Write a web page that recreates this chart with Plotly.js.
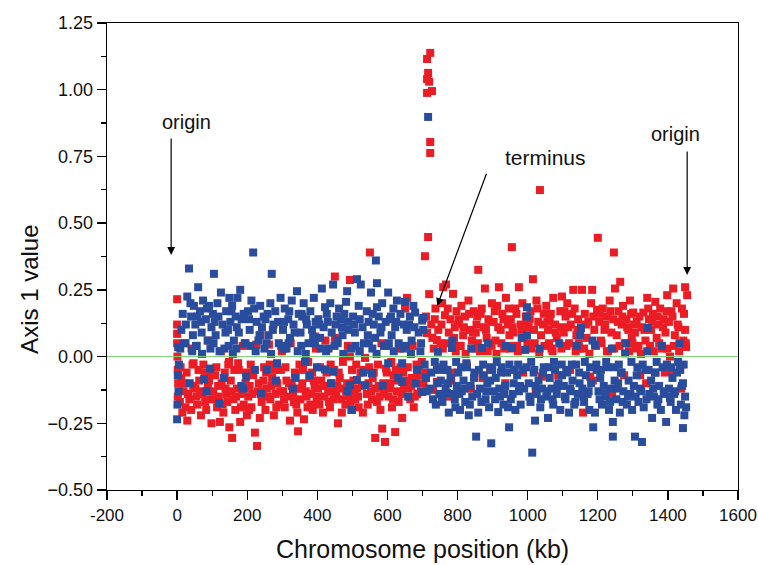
<!DOCTYPE html>
<html>
<head>
<meta charset="utf-8">
<script src="https://cdn.plot.ly/plotly-3.0.1.min.js"></script>
<style>html,body{margin:0;padding:0;background:#fff}#chart{width:758px;height:565px}</style>
</head>
<body>
<div id="chart"></div>
<script>
// Red series (kb, axis 1 value)
const redX = [
0,0,0,0,1,2,3,2,12,18,29,24,35,40,46,44,8,22,31,15,
52,57,63,68,72,78,83,88,94,98,55,66,80,91,
103,108,114,119,122,127,132,138,143,148,149,106,117,130,141,
153,157,161,166,171,176,180,185,190,195,199,155,168,182,193,
203,207,212,217,222,226,228,231,236,241,246,205,215,233,244,
252,256,262,266,271,276,281,286,291,296,259,269,283,294,
302,307,312,317,322,327,333,338,343,345,348,305,319,331,340,
352,357,362,367,372,377,382,387,392,394,398,355,369,380,390,
402,406,411,416,421,426,431,436,441,446,450,450,404,418,433,444,
454,459,464,470,475,480,485,490,493,493,497,457,468,482,495,
503,508,513,518,523,530,536,541,546,550,505,516,527,544,
553,558,565,570,575,580,585,590,593,598,556,567,578,588,
603,608,613,618,622,627,632,637,642,647,606,616,629,640,
650,656,660,665,670,675,680,685,690,695,653,668,678,692,
722,713,716,713,719,713,727,722,722,716,707,719,713,741,730,741,705,710,725,732,737,745,748,703,728,735,
752,756,759,764,767,770,775,780,784,787,792,797,754,772,790,
802,806,811,816,821,826,831,836,841,846,804,818,833,844,
852,856,859,864,869,874,878,883,888,893,898,854,866,881,895,
903,908,913,918,923,928,933,938,943,948,906,916,931,946,
952,955,960,965,970,975,980,985,990,995,957,968,983,997,
1003,1008,1015,1020,1025,1030,1035,1038,1041,1046,1006,1018,1028,1044,
1053,1058,1063,1068,1073,1078,1083,1087,1093,1098,1056,1066,1080,1095,
1103,1108,1113,1118,1123,1130,1134,1139,1144,1148,1105,1116,1127,1142,
1152,1155,1158,1158,1163,1168,1173,1178,1181,1184,1190,1195,1198,1200,1166,1187,
1204,1209,1214,1219,1224,1229,1234,1239,1244,1246,1249,1206,1221,1236,
1254,1259,1264,1268,1272,1277,1282,1287,1292,1297,1257,1270,1284,1295,
1301,1306,1311,1316,1321,1326,1330,1336,1341,1346,1304,1319,1333,1344,
1352,1357,1364,1368,1373,1378,1383,1388,1393,1398,1355,1371,1386,1396,
1403,1406,1406,1406,1410,1415,1420,1425,1430,1435,1440,1444,1449,1452,1455,1449,1413,1428,1446,
10,27,41,47, 61,75,89,96, 112,125,136,146, 163,174,187,197, 210,219,238,248, 254,264,278,299, 309,324,336,349,
359,374,385,396, 408,423,438,448, 461,473,487,499, 511,521,533,548, 561,573,583,596, 611,624,635,645, 658,672,683,698,
758,769,782,795, 809,823,838,849, 858,871,886,897, 911,925,936,949, 958,972,987,999, 1011,1023,1033,1048, 1061,1071,1085,1096,
1111,1121,1137,1146, 1161,1176,1186,1193, 1211,1226,1241,1247, 1262,1275,1289,1299, 1309,1323,1338,1349, 1360,1375,1391,1399, 1417,1432,1438,1451
];
const redY = [
0.215,0.12,0.085,0.05,0.0,-0.05,-0.1,-0.15,-0.08,-0.13,-0.24,-0.19,-0.16,-0.2,-0.11,-0.03,-0.17,-0.1,-0.14,-0.21,
-0.12,-0.18,-0.09,-0.22,-0.14,-0.06,-0.2,-0.11,-0.16,-0.25,-0.15,-0.13,-0.17,-0.09,
-0.13,-0.07,-0.19,-0.15,-0.245,-0.1,-0.21,-0.12,-0.17,-0.02,-0.265,-0.16,-0.11,-0.18,-0.14,
-0.09,-0.305,-0.16,-0.2,-0.12,-0.05,-0.245,-0.14,-0.18,-0.1,-0.22,-0.13,-0.15,-0.19,-0.12,
-0.15,-0.11,-0.19,-0.07,-0.285,0.045,-0.335,-0.13,-0.23,-0.17,-0.09,-0.2,-0.14,-0.1,-0.13,
-0.2,-0.12,0.045,-0.16,-0.08,-0.22,-0.14,-0.1,-0.18,-0.05,-0.15,-0.11,-0.19,-0.13,
-0.13,-0.19,-0.09,-0.15,-0.24,-0.11,-0.17,-0.07,-0.21,-0.28,-0.12,-0.16,-0.1,-0.14,-0.18,
-0.16,-0.1,-0.235,-0.13,-0.19,-0.08,-0.14,-0.2,-0.11,0.075,-0.17,-0.12,-0.15,-0.18,-0.09,
-0.12,-0.18,-0.09,-0.21,-0.15,-0.06,-0.13,-0.19,-0.1,-0.16,0.30,0.07,-0.15,-0.11,-0.17,-0.13,
-0.14,-0.25,-0.08,-0.21,-0.12,-0.18,-0.1,-0.15,0.287,0.0,-0.2,-0.11,-0.16,-0.13,-0.17,
-0.09,-0.16,-0.12,-0.19,-0.06,-0.21,-0.005,-0.14,-0.1,0.39,-0.13,-0.15,-0.11,-0.18,
-0.13,-0.08,-0.305,-0.17,-0.11,-0.2,-0.27,-0.14,-0.32,-0.06,-0.16,-0.12,-0.15,-0.1,
-0.15,-0.1,-0.19,-0.07,-0.283,-0.13,-0.17,-0.04,-0.23,-0.11,-0.12,-0.16,-0.09,-0.14,
0.18,0.22,-0.12,-0.16,-0.08,-0.19,-0.1,-0.14,-0.05,-0.13,-0.09,-0.11,-0.15,-0.07,
1.138,1.115,1.063,1.04,1.03,0.988,0.995,0.804,0.763,0.448,0.376,0.234,0.088,0.062,-0.125,-0.095,-0.06,0.15,0.12,0.03,0.18,0.1,-0.04,-0.1,0.07,0.14,
0.05,0.2,0.26,0.155,0.27,-0.15,0.09,0.14,-0.06,0.235,0.11,0.17,0.12,0.18,0.07,
0.12,0.04,0.19,0.08,0.15,-0.03,0.21,0.1,0.06,0.17,0.14,0.11,0.16,0.09,
0.09,0.15,0.325,0.02,0.18,0.11,0.255,0.07,0.14,-0.05,0.2,0.12,0.16,0.1,0.13,
0.13,0.06,0.19,0.26,0.1,0.16,0.03,0.22,0.12,0.08,0.17,0.11,0.14,0.18,
0.14,0.41,0.09,0.18,0.04,0.26,0.12,0.2,0.07,0.15,0.11,0.16,0.1,0.13,
0.11,0.17,0.29,0.05,0.21,0.13,0.624,0.08,-0.075,0.16,0.14,0.1,0.18,0.12,
0.19,0.1,0.14,0.03,0.22,0.12,0.07,-0.07,0.17,0.225,0.13,0.16,0.09,0.11,
0.09,0.15,0.2,0.05,0.12,0.25,0.18,0.08,0.14,0.03,0.17,0.11,0.16,0.1,
0.11,0.25,-0.137,-0.21,0.16,0.07,0.13,-0.075,0.2,0.25,0.1,0.04,0.175,0.445,0.12,0.15,
0.13,0.06,0.18,0.1,0.15,0.02,0.21,0.09,0.14,0.39,0.255,0.16,0.12,0.17,
0.08,0.17,0.28,0.12,0.19,0.05,0.14,0.1,0.21,0.07,0.13,0.15,0.11,0.16,
0.165,0.09,0.13,0.04,-0.07,0.11,0.165,0.06,0.22,0.14,0.12,0.15,0.1,0.18,
0.1,0.16,0.205,0.07,0.12,0.18,0.03,0.14,0.09,0.23,0.13,0.15,0.11,0.17,
0.13,0.0,-0.057,-0.155,0.17,0.255,0.08,0.2,0.11,-0.045,0.18,0.06,0.26,0.036,0.23,0.1,0.15,0.12,0.16,
-0.04,-0.06,0.03,-0.025, -0.05,-0.03,0.06,-0.07, -0.04,0.02,-0.06,-0.03, -0.05,-0.025,0.04,-0.06, -0.03,-0.05,0.08,-0.04, -0.06,-0.03,-0.05,0.02, -0.04,0.05,-0.06,-0.03,
-0.05,-0.02,-0.06,0.03, -0.04,0.06,-0.03,-0.05, -0.06,-0.02,0.04,-0.05, -0.03,0.02,-0.05,-0.04, -0.06,-0.03,0.05,-0.045, -0.02,-0.05,0.03,-0.06, -0.04,0.04,-0.03,-0.02,
0.03,0.05,-0.09,0.02, 0.04,0.01,-0.12,0.03, 0.05,-0.08,0.02,0.04, 0.01,0.05,-0.1,0.03, 0.04,0.02,-0.06,0.05, 0.03,-0.13,0.01,0.04, 0.05,0.02,-0.11,0.03,
0.04,-0.05,0.02,0.05, 0.03,0.01,-0.09,0.04, 0.05,0.02,-0.14,0.03, 0.04,-0.07,0.02,0.05, 0.03,0.01,-0.1,0.04, 0.02,0.05,-0.06,0.03, 0.04,0.02,-0.12,0.05
];
// Blue series (kb, axis 1 value)
const blueX = [
3,5,2,4,1,0,12,20,29,34,40,45,48,16,25,38,
52,56,60,65,70,74,77,82,87,91,94,98,58,68,85,
102,105,110,115,120,125,130,135,140,145,149,107,118,138,
152,157,162,167,172,176,180,184,188,193,197,155,170,190,
202,207,212,217,222,227,232,237,242,247,205,220,235,
252,256,261,266,270,275,280,285,290,295,258,273,288,
302,307,312,317,322,327,332,337,342,347,305,320,335,
352,357,361,365,370,375,380,385,390,395,399,355,368,388,
403,408,413,418,422,422,427,432,437,441,445,445,406,430,
452,457,462,467,472,477,482,485,489,493,499,455,470,487,
502,507,513,513,518,524,529,533,536,541,546,505,521,544,
553,556,561,565,567,570,570,575,580,585,590,595,558,583,
602,602,607,612,617,622,627,632,637,642,642,647,610,625,
650,655,659,664,669,674,679,684,689,694,699,699,662,677,
702,702,706,710,716,720,725,730,735,741,744,744,748,712,738,
752,757,762,766,770,775,780,784,789,794,798,755,773,792,
802,807,812,817,822,827,832,837,842,847,805,820,835,
853,859,864,870,875,880,885,890,896,899,856,868,882,893,
904,909,916,921,926,931,936,941,947,907,919,933,944,
952,955,960,965,970,975,980,985,990,993,998,998,998,957,978,
1003,1008,1013,1017,1021,1026,1031,1036,1041,1046,1005,1023,1038,
1053,1058,1063,1068,1073,1078,1083,1088,1093,1098,1056,1071,1086,
1103,1108,1113,1118,1123,1128,1133,1138,1143,1148,1106,1121,1136,
1150,1152,1156,1161,1166,1171,1176,1181,1187,1192,1192,1197,1159,1174,
1202,1207,1212,1217,1222,1227,1232,1237,1243,1243,1248,1205,1220,1235,
1253,1258,1263,1268,1273,1278,1283,1288,1293,1298,1256,1271,1286,
1303,1306,1311,1316,1321,1326,1331,1336,1343,1347,1308,1324,1339,
1352,1355,1360,1365,1370,1375,1380,1385,1390,1395,1358,1373,1388,
1403,1408,1413,1418,1423,1429,1435,1440,1443,1449,1443,1452,1406,1421,1437,1447,
9,24,36,43, 54,71,84,95, 104,121,133,147, 159,169,183,195, 209,224,239,249, 255,268,282,297, 304,318,330,344,
354,367,378,393, 410,425,439,449, 458,474,486,496, 509,520,531,547, 557,569,586,598, 604,618,631,644, 652,667,681,696,
760,771,785,796, 810,825,839,848, 861,873,887,894, 912,924,938,948, 962,973,983,996, 1010,1019,1034,1044, 1060,1075,1090,1097,
1110,1126,1140,1147, 1163,1178,1185,1196, 1209,1224,1240,1246, 1260,1266,1281,1296, 1313,1328,1341,1345, 1363,1368,1383,1397, 1410,1426,1433,1445
];
const blueY = [
0.035,-0.03,-0.07,-0.13,-0.18,-0.235,0.1,0.05,0.225,0.33,0.15,0.08,0.19,0.16,0.12,0.2,
0.12,0.04,0.26,0.17,0.09,0.21,-0.085,0.14,0.06,0.19,-0.045,0.11,0.15,0.13,0.18,
0.16,0.31,0.08,0.2,-0.175,0.24,0.12,0.03,0.17,0.1,0.22,0.13,0.15,0.09,
0.13,0.19,0.06,0.15,0.22,0.09,0.25,0.14,-0.12,0.05,-0.075,0.17,0.11,0.16,
0.17,0.1,0.21,0.39,-0.05,0.13,0.06,0.19,0.11,0.15,0.14,0.18,0.08,
0.14,-0.05,0.08,0.2,0.31,0.12,0.17,-0.025,0.05,0.22,0.16,0.1,0.13,
0.1,0.18,0.03,0.14,0.07,0.21,0.12,-0.08,0.245,0.16,0.13,0.17,0.09,
0.09,0.15,0.2,-0.02,0.12,0.05,0.17,0.1,0.22,0.13,-0.04,0.16,0.14,0.07,
0.14,0.07,0.255,0.11,0.185,-0.048,0.16,0.03,0.2,0.09,0.27,-0.057,0.12,0.13,
0.12,0.06,0.18,0.14,0.08,0.16,0.205,0.245,0.1,-0.107,-0.2,0.15,0.11,0.13,
0.15,0.09,0.29,-0.088,0.19,0.27,0.11,0.05,-0.107,0.17,0.13,0.12,0.14,0.08,
0.24,-0.062,0.12,0.07,0.36,0.275,0.185,0.15,0.09,0.2,0.04,0.13,0.16,0.11,
0.24,-0.025,0.14,0.08,0.18,0.11,0.21,0.05,0.16,-0.025,-0.095,0.12,0.15,0.13,
0.205,0.1,-0.15,0.15,0.06,0.19,0.165,-0.05,0.09,0.02,0.135,-0.133,0.12,0.11,
0.145,0.1,-0.03,-0.08,0.898,-0.12,-0.06,-0.16,-0.02,-0.05,-0.1,0.018,-0.14,-0.13,-0.18,
-0.09,-0.17,-0.05,-0.12,-0.137,-0.21,-0.08,0.032,-0.14,-0.19,-0.11,-0.15,-0.1,-0.16,
-0.06,-0.2,-0.13,-0.09,-0.17,-0.04,-0.22,-0.11,-0.15,-0.08,-0.14,-0.12,-0.18,
-0.3,-0.21,-0.12,0.032,-0.07,-0.16,-0.1,-0.19,-0.325,-0.05,-0.14,-0.17,-0.13,-0.09,
-0.13,-0.08,-0.208,-0.15,-0.04,-0.18,-0.11,-0.06,-0.265,-0.16,-0.12,-0.14,-0.19,
-0.16,0.032,-0.1,-0.2,-0.07,-0.13,-0.18,-0.05,-0.12,0.025,0.185,0.15,0.08,-0.14,-0.11,
-0.1,-0.17,-0.36,-0.06,-0.24,-0.14,-0.09,-0.19,-0.12,-0.04,-0.15,-0.11,-0.16,
-0.15,-0.23,-0.08,-0.12,-0.18,-0.05,-0.14,-0.1,-0.2,-0.07,-0.13,-0.16,-0.11,
-0.11,-0.16,-0.06,-0.21,-0.13,-0.09,-0.18,-0.03,-0.14,-0.1,-0.15,-0.12,-0.17,
0.08,0.107,-0.12,-0.17,-0.07,-0.14,-0.2,-0.1,-0.265,0.044,-0.21,-0.05,-0.15,-0.13,
-0.13,-0.08,-0.18,-0.11,-0.15,-0.04,-0.2,-0.12,-0.3,-0.245,-0.09,-0.16,-0.14,-0.17,
-0.16,-0.1,-0.21,-0.06,-0.13,0.012,-0.18,-0.09,-0.14,-0.2,-0.12,-0.17,-0.15,
-0.11,-0.3,-0.07,-0.17,-0.12,-0.32,-0.19,-0.05,0.107,-0.14,-0.15,-0.13,-0.16,
-0.09,-0.23,-0.15,-0.06,-0.18,-0.11,-0.2,-0.04,-0.13,-0.245,-0.12,-0.16,-0.14,
-0.12,-0.17,-0.08,-0.14,-0.2,-0.02,-0.05,-0.11,-0.1,-0.15,-0.268,-0.19,-0.15,-0.13,-0.18,-0.22,
0.03,0.05,-0.1,0.02, 0.04,0.01,-0.13,0.03, 0.05,0.02,-0.08,0.04, 0.01,0.03,-0.11,0.05, 0.04,0.02,-0.14,0.03, 0.05,0.01,-0.09,0.04, 0.03,0.05,-0.12,0.02,
0.04,0.01,-0.07,0.05, 0.03,0.02,-0.1,0.04, 0.05,0.01,-0.13,0.03, 0.04,0.02,-0.06,0.05, 0.03,0.01,-0.11,0.04, 0.05,0.02,-0.08,0.03, 0.04,0.01,-0.1,0.05,
-0.03,-0.05,0.06,-0.02, -0.04,-0.025,0.03,-0.06, -0.05,-0.03,0.05,-0.04, -0.02,-0.06,0.04,-0.03, -0.05,-0.03,0.07,-0.04, -0.02,-0.05,0.03,-0.06, -0.04,-0.02,0.05,-0.03,
-0.05,-0.03,0.04,-0.06, -0.02,-0.04,0.06,-0.03, -0.05,-0.02,0.03,-0.04, -0.03,-0.06,0.05,-0.02, -0.04,-0.03,0.02,-0.05, -0.06,-0.02,0.04,-0.03, -0.04,-0.06,0.05,-0.03
];

const xTickVals = [-200,0,200,400,600,800,1000,1200,1400,1600];
const yTickVals = [-0.5,-0.25,0,0.25,0.5,0.75,1.0,1.25];

const FONT = 'Liberation Sans, Arial, Helvetica, sans-serif';
const RED = '#ec1c24';
const BLUE = '#2a4c9c';

const traces = [
  {type:'scatter', mode:'markers', x:redX, y:redY, name:'red',
   marker:{symbol:'square', size:8, color:RED, line:{width:0}}, hoverinfo:'x+y'},
  {type:'scatter', mode:'markers', x:blueX, y:blueY, name:'blue',
   marker:{symbol:'square', size:8, color:BLUE, line:{width:0}}, hoverinfo:'x+y'}
];

function arrow(x, y, ax, ay) {
  return {x:x, y:y, ax:ax, ay:ay, xref:'x', yref:'y', axref:'x', ayref:'y',
          text:'', showarrow:true, arrowhead:2, arrowsize:1.3, arrowwidth:1.2, arrowcolor:'#000', standoff:0, startstandoff:0};
}

const layout = {
  width:758, height:565,
  margin:{l:107, r:20, t:23, b:75},
  paper_bgcolor:'#fff', plot_bgcolor:'#fff',
  showlegend:false,
  font:{family:FONT, color:'#111'},
  xaxis:{
    range:[-200,1600], tickvals:xTickVals, ticktext:xTickVals.map(String),
    ticks:'outside', ticklen:9, tickwidth:1.3, tickcolor:'#000',
    minor:{tickvals:[-100,100,300,500,700,900,1100,1300,1500], ticks:'outside', ticklen:5, tickwidth:1.3, tickcolor:'#000'},
    showline:true, linecolor:'#000', linewidth:1.3, mirror:true,
    showgrid:false, zeroline:false,
    tickfont:{family:FONT, size:17, color:'#111'}, automargin:false
  },
  yaxis:{
    range:[-0.5,1.25], tickvals:yTickVals, tickformat:'.2f',
    ticks:'outside', ticklen:9, tickwidth:1.3, tickcolor:'#000',
    minor:{tickvals:[-0.375,-0.125,0.125,0.375,0.625,0.875,1.125], ticks:'outside', ticklen:5, tickwidth:1.3, tickcolor:'#000'},
    showline:true, linecolor:'#000', linewidth:1.3, mirror:true,
    showgrid:false, zeroline:false,
    tickfont:{family:FONT, size:18, color:'#111'}, automargin:false
  },
  shapes:[
    {type:'line', xref:'paper', yref:'y', x0:0, x1:1, y0:0, y1:0, line:{color:'#7ccf6e', width:1}, layer:'above'}
  ],
  annotations:[
    {xref:'paper', yref:'paper', x:0.5, y:-0.126, xanchor:'center', yanchor:'middle', showarrow:false,
     text:'Chromosome position (kb)', font:{family:FONT, size:25, color:'#111'}},
    {xref:'paper', yref:'y', x:-0.122, y:0.25, xanchor:'center', yanchor:'middle', showarrow:false, textangle:-90,
     text:'Axis 1 value', font:{family:FONT, size:24, color:'#111'}},
    {xref:'x', yref:'y', x:26, y:0.88, showarrow:false, text:'origin', font:{family:FONT, size:20, color:'#111'}},
    {xref:'x', yref:'y', x:1423, y:0.835, showarrow:false, text:'origin', font:{family:FONT, size:20, color:'#111'}},
    {xref:'x', yref:'y', x:1050, y:0.745, showarrow:false, text:'terminus', font:{family:FONT, size:21, color:'#111'}},
    arrow(-17, 0.381, -17, 0.823),
    arrow(1455, 0.306, 1455, 0.774),
    arrow(742, 0.19, 884, 0.691)
  ]
};

Plotly.newPlot('chart', traces, layout, {staticPlot:true, displayModeBar:false});
</script>
</body>
</html>
